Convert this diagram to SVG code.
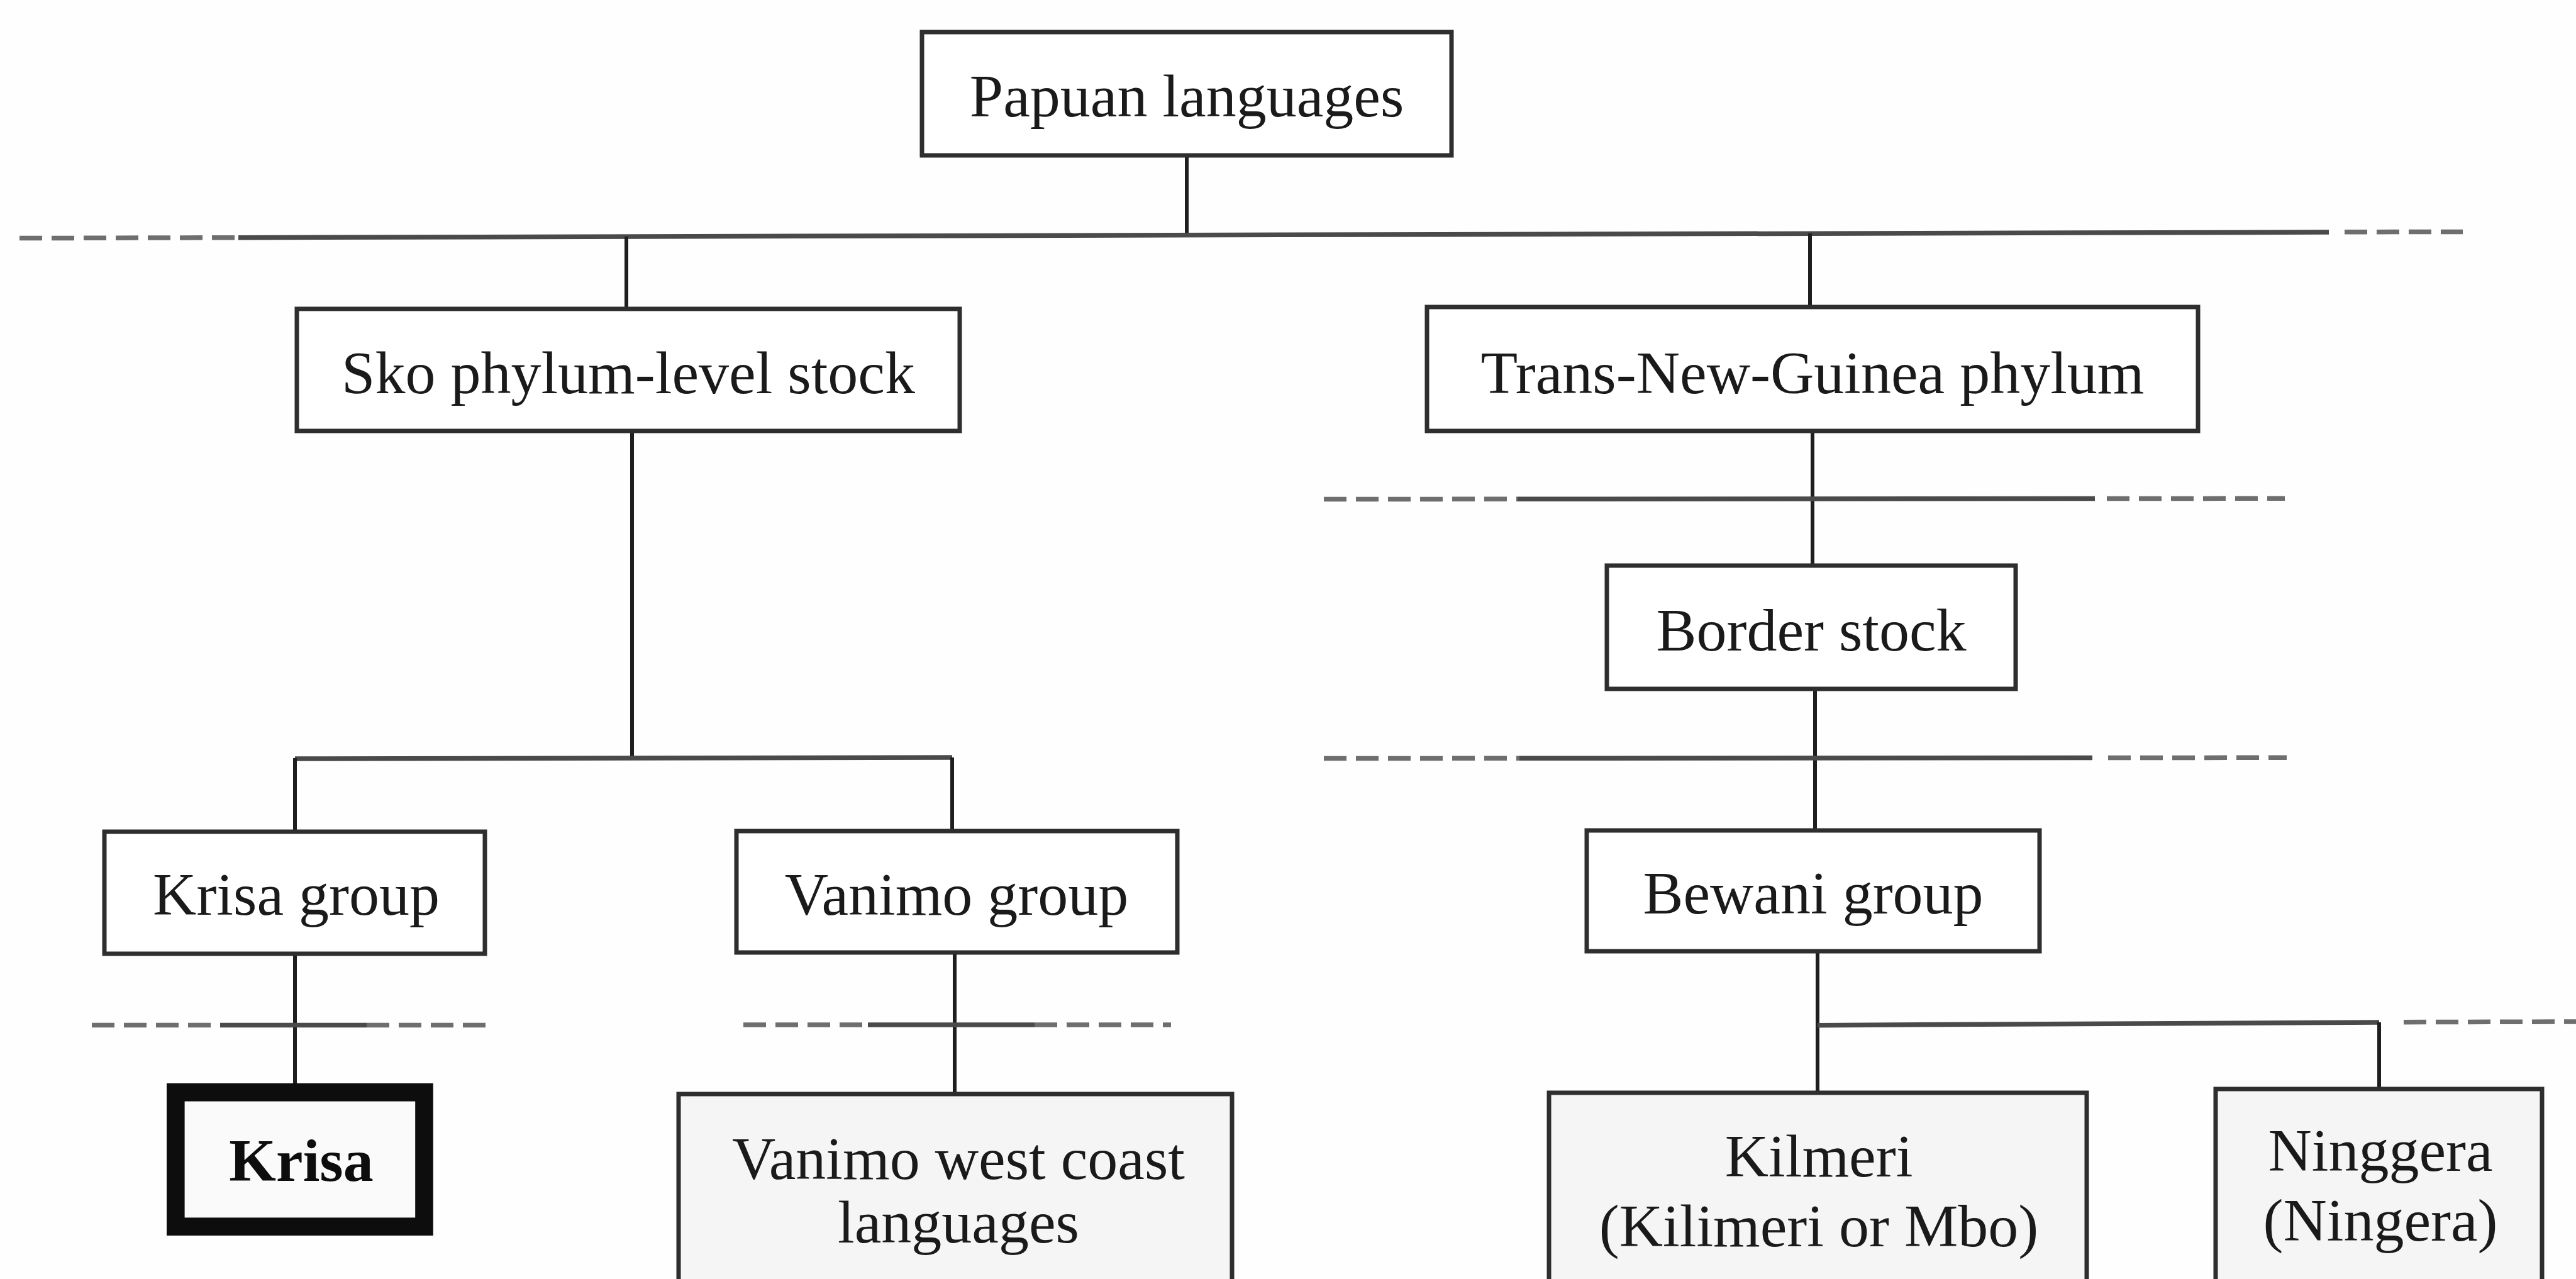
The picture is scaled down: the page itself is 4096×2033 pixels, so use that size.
<svg xmlns="http://www.w3.org/2000/svg" width="4096" height="2033" viewBox="0 0 4096 2033">
  <style>
    .box { fill: #ffffff; stroke: #2e2e2e; stroke-width: 7; }
    .leaf { fill: #f5f5f5; stroke: #2e2e2e; stroke-width: 7; }
    .focus { fill: #fafafa; stroke: #0d0d0d; stroke-width: 28.6; }
    .lbl { font-family: "Liberation Serif", "Times New Roman", serif; font-size: 96px; fill: #1a1a1a; text-anchor: middle; }
    .bold { font-weight: bold; fill: #0d0d0d; }
    .v { stroke: #1e1e1e; stroke-width: 6; fill: none; }
    .h { stroke: #4a4a4a; stroke-width: 7.5; fill: none; }
    .dash { stroke: #6e6e6e; stroke-width: 7.5; fill: none; stroke-dasharray: 36 15; }
  </style>
  <rect x="0" y="0" width="4096" height="2033" fill="#fefefe"/>

  <!-- tree connectors and classification-level rules -->
  <g id="connectors">
    <line class="v" x1="1887" y1="247" x2="1887" y2="375"/>
    <line class="dash" x1="31" y1="378.6" x2="379" y2="377.7"/>
    <line class="h" x1="379" y1="377.7" x2="3703" y2="369"/>
    <line class="dash" x1="3728" y1="368.8" x2="3916" y2="368.4"/>
    <line class="v" x1="996" y1="376" x2="996" y2="491"/>
    <line class="v" x1="2878" y1="371" x2="2878" y2="488"/>

    <line class="v" x1="1005" y1="685" x2="1005" y2="1205"/>
    <line class="h" x1="469" y1="1206" x2="1514" y2="1204"/>
    <line class="v" x1="469" y1="1205" x2="469" y2="1322"/>
    <line class="v" x1="1514" y1="1204" x2="1514" y2="1321"/>

    <line class="v" x1="469" y1="1516" x2="469" y2="1722"/>
    <line class="dash" x1="146" y1="1629.5" x2="350" y2="1629.5"/>
    <line class="h" x1="350" y1="1629.5" x2="583" y2="1629.5"/>
    <line class="dash" x1="583" y1="1629.5" x2="780" y2="1629.5"/>

    <line class="v" x1="1518" y1="1514" x2="1518" y2="1740"/>
    <line class="dash" x1="1182" y1="1629" x2="1380" y2="1629"/>
    <line class="h" x1="1380" y1="1629" x2="1645" y2="1629"/>
    <line class="dash" x1="1645" y1="1629" x2="1862" y2="1629"/>

    <line class="v" x1="2882" y1="685" x2="2882" y2="899"/>
    <line class="dash" x1="2105" y1="793.5" x2="2413" y2="793.3"/>
    <line class="h" x1="2413" y1="793.3" x2="3331" y2="792.5"/>
    <line class="dash" x1="3350" y1="792.5" x2="3633" y2="792.3"/>

    <line class="v" x1="2886" y1="1095" x2="2886" y2="1320"/>
    <line class="dash" x1="2105" y1="1205.5" x2="2416" y2="1205.3"/>
    <line class="h" x1="2416" y1="1205.3" x2="3327" y2="1204.5"/>
    <line class="dash" x1="3352" y1="1204.5" x2="3636" y2="1204.3"/>

    <line class="v" x1="2890" y1="1511" x2="2890" y2="1737"/>
    <line class="h" x1="2890" y1="1629.7" x2="3783" y2="1625"/>
    <line class="dash" x1="3822" y1="1624.7" x2="4096" y2="1624"/>
    <line class="v" x1="3783" y1="1625" x2="3783" y2="1731"/>
  </g>

  <g id="papuan">
    <rect class="box" x="1466" y="51" width="842" height="196"/>
    <text class="lbl" x="1887" y="185">Papuan languages</text>
  </g>

  <g id="sko">
    <rect class="box" x="472" y="491" width="1054" height="194"/>
    <text class="lbl" x="999" y="625">Sko phylum-level stock</text>
  </g>

  <g id="trans-new-guinea">
    <rect class="box" x="2269" y="488" width="1226" height="197"/>
    <text class="lbl" x="2882" y="625">Trans-New-Guinea phylum</text>
  </g>

  <g id="border-stock">
    <rect class="box" x="2555" y="899" width="650" height="196"/>
    <text class="lbl" x="2880" y="1034">Border stock</text>
  </g>

  <g id="krisa-group">
    <rect class="box" x="166" y="1322" width="605" height="194"/>
    <text class="lbl" x="471" y="1454">Krisa group</text>
  </g>

  <g id="vanimo-group">
    <rect class="box" x="1171" y="1321" width="701" height="193"/>
    <text class="lbl" x="1521" y="1454">Vanimo group</text>
  </g>

  <g id="bewani-group">
    <rect class="box" x="2523" y="1320" width="720" height="192"/>
    <text class="lbl" x="2883" y="1452">Bewani group</text>
  </g>

  <g id="krisa">
    <rect class="focus" x="279.3" y="1736.3" width="395.2" height="213.4"/>
    <text class="lbl bold" x="479" y="1877">Krisa</text>
  </g>

  <g id="vanimo-west-coast">
    <rect class="leaf" x="1079" y="1739" width="880" height="330"/>
    <text class="lbl" x="1524" y="1874">Vanimo west coast</text>
    <text class="lbl" x="1524" y="1975">languages</text>
  </g>

  <g id="kilmeri">
    <rect class="leaf" x="2463" y="1737" width="855" height="330"/>
    <text class="lbl" x="2892" y="1870">Kilmeri</text>
    <text class="lbl" x="2892" y="1981">(Kilimeri or Mbo)</text>
  </g>

  <g id="ninggera">
    <rect class="leaf" x="3523" y="1731" width="519" height="330"/>
    <text class="lbl" x="3785" y="1861">Ninggera</text>
    <text class="lbl" x="3785" y="1972">(Ningera)</text>
  </g>
</svg>
